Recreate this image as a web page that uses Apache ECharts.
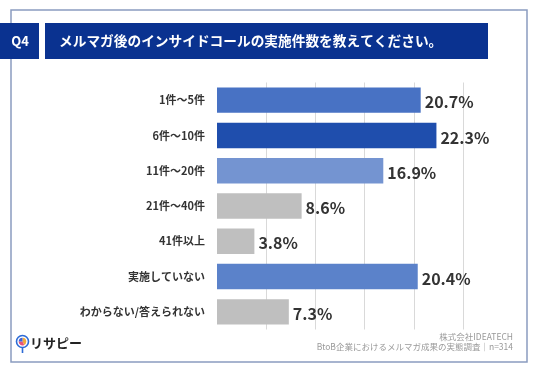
<!DOCTYPE html>
<html>
<head>
<meta charset="utf-8">
<script src="https://cdn.jsdelivr.net/npm/echarts@6/dist/echarts.min.js"></script>
<style>
html,body{margin:0;padding:0;background:#fff;}
#main{width:536px;height:371px;}
</style>
</head>
<body>
<div id="main"></div>
<script>
const categories = ['1件～5件', '6件～10件', '11件～20件', '21件～40件', '41件以上', '実施していない', 'わからない/答えられない'];
const values = [20.7, 22.3, 16.9, 8.6, 3.8, 20.4, 7.3];
const barColors = ['#4872C4', '#1F4EAD', '#7494D1', '#BFBFBF', '#BFBFBF', '#5B82CA', '#BFBFBF'];
const axisMax = 25;
const axisStep = 5;
const titleText = 'メルマガ後のインサイドコールの実施件数を教えてください。';
const questionNo = 'Q4';
const footer1 = '株式会社IDEATECH';
const footer2 = 'BtoB企業におけるメルマガ成果の実態調査｜n=314';

const FONT = '"Noto Sans CJK JP", "Noto Sans", sans-serif';
const navy = '#0A3290';

const chart = echarts.init(document.getElementById('main'), null, {renderer: 'canvas'});
chart.setOption({
  animation: false,
  backgroundColor: '#ffffff',
  grid: {left: 217, right: 73, top: 82.5, height: 247, containLabel: false},
  xAxis: {
    type: 'value', min: 0, max: axisMax, interval: axisStep,
    axisLabel: {show: false}, axisLine: {show: false}, axisTick: {show: false},
    splitLine: {show: true, showMinLine: false, lineStyle: {color: '#D9D9D9', width: 1}}
  },
  yAxis: {
    type: 'category', data: categories, inverse: true,
    axisLine: {show: false}, axisTick: {show: false},
    axisLabel: {margin: 12, color: '#333333', fontSize: 11, fontWeight: 'bold', fontFamily: FONT}
  },
  series: [{
    type: 'bar',
    data: values.map((v, i) => ({value: v, itemStyle: {color: barColors[i]}})),
    barCategoryGap: '28%',
    label: {
      show: true, position: 'right', distance: 4,
      formatter: p => p.value.toFixed(1) + '%',
      color: '#333333', fontSize: 16, fontWeight: 'bold', fontFamily: FONT, offset: [0, 2]
    }
  }],
  graphic: [
    {type: 'rect', shape: {x: 11, y: 10, width: 516, height: 352}, style: {fill: 'none', stroke: '#8A9CC0', lineWidth: 1.5}, z: 0},
    {type: 'rect', shape: {x: 0, y: 23, width: 39, height: 36}, style: {fill: navy}},
    {type: 'rect', shape: {x: 45, y: 23, width: 443, height: 36}, style: {fill: navy}},
    {type: 'text', x: 20, y: 41.5, style: {text: questionNo, fill: '#fff', font: 'bold 13px ' + FONT, textAlign: 'center', textVerticalAlign: 'middle'}},
    {type: 'text', x: 59, y: 41, style: {text: titleText, fill: '#fff', font: 'bold 13.7px ' + FONT, textAlign: 'left', textVerticalAlign: 'middle'}},
    {type: 'text', x: 513, y: 337, style: {text: footer1, fill: '#999999', font: '8.5px ' + FONT, textAlign: 'right', textVerticalAlign: 'middle'}},
    {type: 'text', x: 513, y: 347, style: {text: footer2, fill: '#999999', font: '8.5px ' + FONT, textAlign: 'right', textVerticalAlign: 'middle'}},
    // logo pin
    {type: 'line', shape: {x1: 22.5, y1: 347, x2: 22.5, y2: 353}, style: {stroke: '#2D6BD6', lineWidth: 1.6}},
    {type: 'circle', shape: {cx: 22.5, cy: 341.5, r: 6}, style: {fill: '#fff', stroke: '#2D6BD6', lineWidth: 1.6}},
    {type: 'sector', shape: {cx: 22.5, cy: 341.5, r: 3.8, startAngle: -Math.PI / 2, endAngle: Math.PI * 0.35}, style: {fill: '#F2A93B'}},
    {type: 'sector', shape: {cx: 22.5, cy: 341.5, r: 3.8, startAngle: Math.PI * 0.35, endAngle: Math.PI * 1.0}, style: {fill: '#E8547A'}},
    {type: 'sector', shape: {cx: 22.5, cy: 341.5, r: 3.8, startAngle: Math.PI * 1.0, endAngle: Math.PI * 1.5}, style: {fill: '#3F63D8'}},
    {type: 'text', x: 30, y: 343, style: {text: 'リサピー', fill: '#222', font: 'bold 13px ' + FONT, textAlign: 'left', textVerticalAlign: 'middle'}}
  ]
});
</script>
</body>
</html>
